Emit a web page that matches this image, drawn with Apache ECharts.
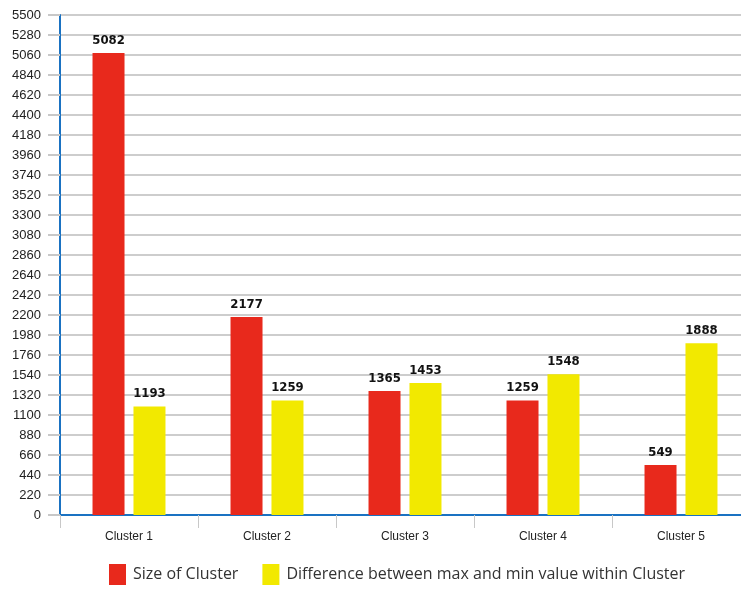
<!DOCTYPE html>
<html>
<head>
<meta charset="utf-8">
<style>
  html, body { margin: 0; padding: 0; background: #fff; }
  #chart { width: 741px; height: 596px; }
</style>
<script src="https://cdn.jsdelivr.net/npm/echarts@6/dist/echarts.min.js"></script>
</head>
<body>
<div id="chart"></div>
<script>
const categories = ['Cluster 1', 'Cluster 2', 'Cluster 3', 'Cluster 4', 'Cluster 5']
const clusterSize = [5082, 2177, 1365, 1259, 549]
const maxMinDiff = [1193, 1259, 1453, 1548, 1888]
const seriesNames = ['Size of Cluster', 'Difference between max and min value within Cluster']

const labelStyle = {
  show: true,
  position: 'top',
  distance: 6,
  fontFamily: '"DejaVu Sans Condensed", "Liberation Sans Narrow", sans-serif',
  fontWeight: 'bold',
  fontSize: 13,
  color: '#111'
}

const chart = echarts.init(document.getElementById('chart'), null, { renderer: 'canvas' })

chart.setOption({
  animation: false,
  color: ['#e8291c', '#f2e900'],
  grid: {
    left: 60,
    top: 15,
    width: 690,
    height: 500,
    outerBoundsMode: 'none',
    containLabel: false,
    show: true,
    borderColor: '#1a72c2',
    borderWidth: 2
  },
  legend: {
    bottom: 6,
    left: 104,
    itemWidth: 17,
    itemHeight: 21,
    itemGap: 24,
    icon: 'rect',
    textStyle: {
      fontFamily: '"Open Sans", "Noto Sans", sans-serif',
      fontSize: 16,
      color: '#333',
      padding: [0, 0, 0, 2]
    },
    data: seriesNames
  },
  xAxis: {
    type: 'category',
    data: categories,
    axisLine: { lineStyle: { color: '#1a72c2', width: 2 } },
    axisTick: { show: true, length: 13, lineStyle: { color: '#c8c8c8' } },
    axisLabel: {
      margin: 16,
      fontFamily: '"Liberation Sans", Arial, sans-serif',
      fontSize: 12,
      color: '#222'
    }
  },
  yAxis: {
    type: 'value',
    min: 0,
    max: 5500,
    interval: 220,
    axisLine: { show: true, lineStyle: { color: '#1a72c2', width: 2 } },
    axisTick: { show: true, length: 12, lineStyle: { color: '#c8c8c8', width: 2 } },
    splitLine: { lineStyle: { color: '#cdcdcd', width: 2 } },
    axisLabel: {
      margin: 19,
      formatter: v => String(v),
      fontFamily: '"Liberation Sans", Arial, sans-serif',
      fontSize: 13,
      color: '#222'
    }
  },
  series: [
    {
      name: seriesNames[0],
      type: 'bar',
      data: clusterSize,
      barWidth: 32,
      barGap: '28%',
      label: labelStyle
    },
    {
      name: seriesNames[1],
      type: 'bar',
      data: maxMinDiff,
      barWidth: 32,
      label: labelStyle
    }
  ]
})
</script>
</body>
</html>
